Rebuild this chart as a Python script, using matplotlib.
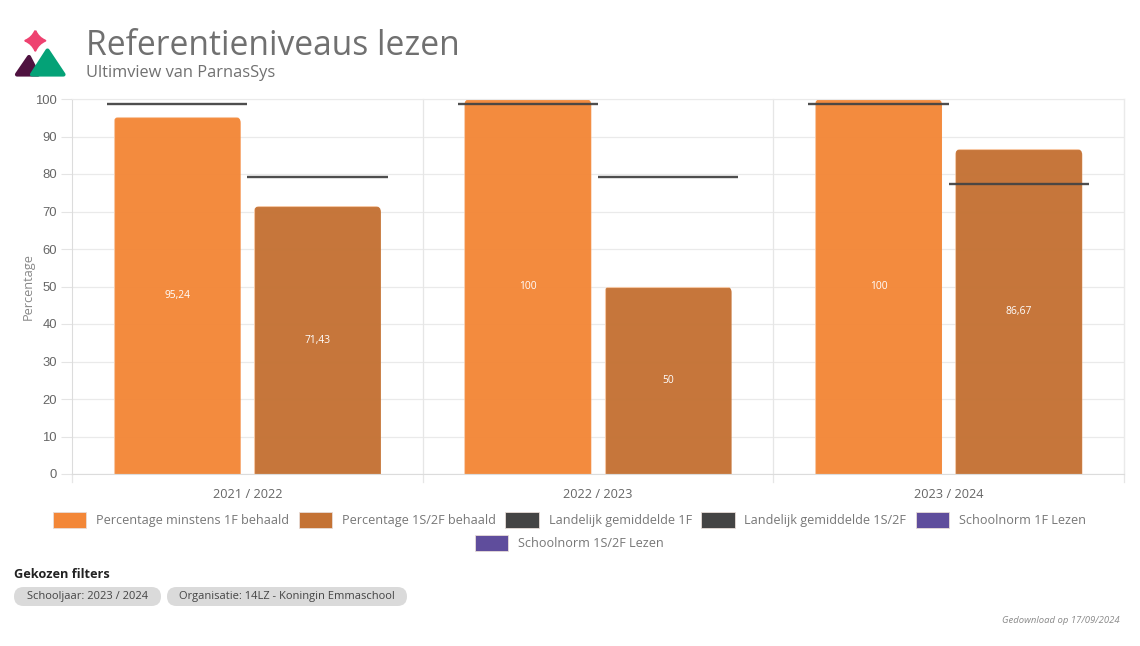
# Referentieniveaus lezen

# Importing the libraries
import numpy as np
import matplotlib
matplotlib.use('Agg')
import matplotlib.pyplot as plt
from matplotlib.patches import FancyBboxPatch, Patch, PathPatch, Polygon
from matplotlib.path import Path

plt.rcParams['font.family'] = ['Open Sans', 'DejaVu Sans']

# Data
years = ['2021 / 2022', '2022 / 2023', '2023 / 2024']
pct_1f = [95.24, 100, 100]
pct_2f = [71.43, 50, 86.67]
avg_1f = [98.8, 98.8, 98.7]
avg_2f = [79.3, 79.3, 77.3]
legend_names = ['Percentage minstens 1F behaald', 'Percentage 1S/2F behaald',
                'Landelijk gemiddelde 1F', 'Landelijk gemiddelde 1S/2F',
                'Schoolnorm 1F Lezen', 'Schoolnorm 1S/2F Lezen']
legend_colors = ['#F38738', '#C47234', '#444444', '#444444', '#5F4D9C', '#5F4D9C']
y_ticks = list(range(0, 101, 10))

W, H = 1140, 646
GREY = '#666666'

fig = plt.figure(figsize=(W / 100, H / 100), dpi=100)
ax = fig.add_axes([72 / W, 1 - 474 / H, (1124 - 72) / W, (474 - 99) / H])

x = np.arange(len(years))
bar_w = 0.362
offset = 0.2


def rounded_bars(xs, values, color):
    bars = ax.bar(xs, values, bar_w, color=color, alpha=0.97, edgecolor='#F8C8A4', linewidth=0.8, zorder=2)
    for b in bars:
        clip = FancyBboxPatch((b.get_x(), -10), b.get_width(), b.get_height() + 10,
                              boxstyle='round,pad=0,rounding_size=0.017', mutation_aspect=93.6,
                              transform=ax.transData, fc='none', ec='none')
        b.set_clip_path(clip)
        b.set_clip_on(True)
    return bars


# Bars with their labels
for xs, values, color in [(x - offset, pct_1f, legend_colors[0]), (x + offset, pct_2f, legend_colors[1])]:
    rounded_bars(xs, values, color)
    for xi, v in zip(xs, values):
        ax.text(xi, v / 2, f'{v:g}'.replace('.', ','), color='white', fontsize=7.4,
                ha='center', va='center', zorder=4)

# National averages
ax.hlines(avg_1f, x - offset - 0.2, x - offset + 0.2, color='#444444', linewidth=1.7, alpha=0.95, zorder=3)
ax.hlines(avg_2f, x + offset - 0.2, x + offset + 0.2, color='#444444', linewidth=1.7, alpha=0.95, zorder=3)

ax.set_xlim(-0.5, 2.5)
ax.set_ylim(0, 100)
ax.set_yticks(y_ticks)
ax.set_xticks(x)
ax.set_xticklabels(years)
ax.tick_params(axis='x', length=0, pad=10, labelsize=9.2, labelcolor=GREY)
ax.tick_params(axis='y', length=8, width=0.8, color='#E4E4E4', pad=3, labelsize=9.4, labelcolor=GREY)
for lab in ax.get_yticklabels():
    lab.set_family('Liberation Sans')
ax.set_ylabel('Percentage', fontsize=9.2, color='#888888', labelpad=0)
ax.yaxis.grid(True, color='#EAEAEA', linewidth=0.9, zorder=0)
ax.set_axisbelow(True)
for name in ['top', 'right']:
    ax.spines[name].set_color('#EAEAEA')
for name in ['left', 'bottom']:
    ax.spines[name].set_color('#DCDCDC')
for xb in [0.5, 1.5, 2.5]:
    ax.plot([xb, xb], [-2.1, 100], color='#E6E6E6', linewidth=0.9, clip_on=False, zorder=1)
ax.plot([-0.5, -0.5], [-2.1, 0], color='#E6E6E6', linewidth=0.9, clip_on=False, zorder=1)

# Legend, two centred rows
handles = [Patch(facecolor=c, edgecolor='#E8DDD8', linewidth=0.6, label=n)
           for n, c in zip(legend_names, legend_colors)]
kw = dict(frameon=False, fontsize=9.1, labelcolor='#777777', handlelength=2.65, handleheight=1.5,
          handletextpad=0.78, columnspacing=0.74, borderpad=0, borderaxespad=0, loc='center')
fig.legend(handles=handles[:5], ncol=5, bbox_to_anchor=(569.5 / W, 1 - 520 / H), **kw)
fig.legend(handles=handles[5:], ncol=1, bbox_to_anchor=(569.5 / W, 1 - 543 / H), **kw)

# Page overlay in pixel coordinates
page = fig.add_axes([0, 0, 1, 1], facecolor='none')
page.set_xlim(0, W)
page.set_ylim(H, 0)
page.axis('off')

page.text(85.5, 46, 'Referentieniveaus lezen', fontsize=24.2, color='#707070', va='center', ha='left')
page.text(85.5, 73, 'Ultimview van ParnasSys', fontsize=11.8, color='#707070', va='center', ha='left')
page.text(14, 574, 'Gekozen filters', fontsize=9.2, fontweight='bold', color='#222222', va='center')

# Logo
page.add_patch(Polygon([(17, 74.5), (29, 57), (38, 74.5)], closed=True, fc='#4F1240', ec='#4F1240',
                       lw=3, joinstyle='round'))
page.add_patch(Polygon([(32, 74.5), (47.5, 50.5), (63.5, 74.5)], closed=True, fc='#04A277', ec='#04A277',
                       lw=3, joinstyle='round'))
cx, cy = 35.3, 40.7
star = [(cx, cy - 10), (cx + 3, cy - 3), (cx + 10, cy), (cx + 3, cy + 3), (cx, cy + 10),
        (cx - 3, cy + 3), (cx - 10, cy), (cx - 3, cy - 3), (cx, cy - 10)]
page.add_patch(PathPatch(Path(star, [Path.MOVETO] + [Path.CURVE3] * 8), fc='#EE4270', ec='#EE4270',
                         lw=1.5, joinstyle='round'))

# Filter chips
for left, right, label in [(14, 161, 'Schooljaar: 2023 / 2024'),
                           (167, 407, 'Organisatie: 14LZ - Koningin Emmaschool')]:
    page.add_patch(FancyBboxPatch((left, 587), right - left, 19, boxstyle='round,pad=0,rounding_size=9.5',
                                  fc='#DADADA', ec='none'))
    page.text((left + right) / 2, 596.5, label, fontsize=8.0, color='#444444', ha='center', va='center')

page.text(1120, 620.5, 'Gedownload op 17/09/2024', fontsize=6.8, style='italic', color='#8A8A8A',
          ha='right', va='center')

plt.savefig('out.png', dpi=100)
